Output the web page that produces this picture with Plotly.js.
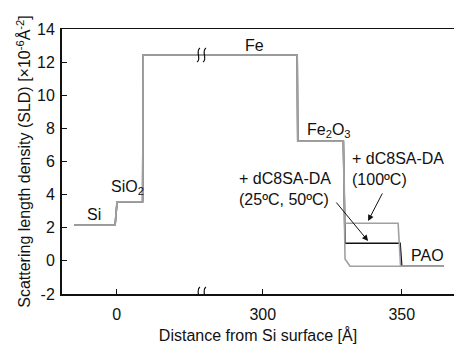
<!DOCTYPE html>
<html><head><meta charset="utf-8">
<script src="https://cdn.plot.ly/plotly-3.0.1.min.js"></script>
<style>html,body{margin:0;padding:0;background:#fff}#chart{width:454px;height:344px}</style>
</head><body><div id="chart"></div>
<script>
// Distance from Si surface [Å] and SLD [×10^-6 Å^-2]
const xBare   = [-15.4, -0.6, 0.1, 9.3, 9.5, 312.4, 312.6, 329.0, 329.6, 331.4, 365.2];
const yBare   = [2.15, 2.15, 3.57, 3.57, 12.43, 12.43, 7.22, 7.22, 0.12, -0.32, -0.32];
const x100    = [-15.4, -0.6, 0.1, 9.3, 9.5, 312.4, 312.6, 329.0, 329.6, 348.7, 349.1, 349.6, 365.2];
const y100    = [2.15, 2.15, 3.57, 3.57, 12.43, 12.43, 7.22, 7.22, 2.27, 2.27, 1.06, -0.32, -0.32];
const x2550   = [-15.4, -0.6, 0.1, 9.3, 9.5, 312.4, 312.6, 329.0, 329.6, 349.4, 350.0, 365.2];
const y2550   = [2.15, 2.15, 3.57, 3.57, 12.43, 12.43, 7.22, 7.22, 1.06, 1.06, -0.32, -0.32];
const xTickVals = [0, 300, 350];
const xTickText = ['0', '300', '350'];
const yTickVals = [-2, 0, 2, 4, 6, 8, 10, 12, 14];
const yTickText = ['-2', '0', '2', '4', '6', '8', '10', '12', '14'];

// broken x axis: the region between ~31 Å and ~278.5 Å is cut out
const BREAK_AT = 31;
const GAP = 247.5;
const disp = v => (v > 150 ? v - GAP : v);

const FONT = 'Liberation Sans, Arial, sans-serif';
const GRAY = '#a0a0a0';

const traces = [
  {x: x2550.map(disp), y: y2550, mode: 'lines', line: {color: '#111111', width: 1.6}, hoverinfo: 'skip'},
  {x: xBare.map(disp), y: yBare, mode: 'lines', line: {color: GRAY, width: 1.6}, hoverinfo: 'skip'},
  {x: x100.map(disp), y: y100, mode: 'lines', line: {color: GRAY, width: 1.6}, hoverinfo: 'skip'}
];

const squiggle = 'M -6,-7 C -1,-5 -8,4 -3,7 M 0,-7 C 5,-5 -2,4 3,7';
const breakShape = yAnchor => ({
  type: 'path', xref: 'x', yref: 'y', xsizemode: 'pixel', ysizemode: 'pixel',
  xanchor: BREAK_AT, yanchor: yAnchor, path: squiggle,
  line: {color: '#111111', width: 1.2}
});

const ann = (x, y, text, xanchor) => ({
  x, y, xref: 'x', yref: 'y', text, showarrow: false, xanchor: xanchor || 'center',
  align: 'left', font: {family: FONT, size: 16, color: '#111111'}
});

const layout = {
  width: 454, height: 344,
  margin: {l: 62, r: 0, t: 29, b: 50},
  paper_bgcolor: '#ffffff', plot_bgcolor: '#ffffff',
  showlegend: false,
  font: {family: FONT, size: 16, color: '#111111'},
  xaxis: {
    range: [-19.7, 121.3], showgrid: false, zeroline: false,
    showline: true, linecolor: '#111111', linewidth: 1.5, mirror: true,
    ticks: 'inside', ticklen: 5, tickwidth: 1, tickcolor: '#111111',
    ticklabelstandoff: 5,
    tickmode: 'array', tickvals: xTickVals.map(disp), ticktext: xTickText,
    tickfont: {family: FONT, size: 16, color: '#111111'},
    title: {text: 'Distance from Si surface [Å]', font: {family: FONT, size: 16, color: '#111111'}, standoff: 9}
  },
  yaxis: {
    range: [-2, 14], showgrid: false, zeroline: false,
    showline: true, linecolor: '#111111', linewidth: 2,
    ticks: 'inside', ticklen: 5, tickwidth: 1, tickcolor: '#111111',
    ticklabelstandoff: 2,
    tickmode: 'array', tickvals: yTickVals, ticktext: yTickText,
    tickfont: {family: FONT, size: 16, color: '#111111'},
    title: {text: 'Scattering length density (SLD) [×10<sup>-6</sup>Å<sup>-2</sup>]', font: {family: FONT, size: 16, color: '#111111'}, standoff: 2}
  },
  shapes: [breakShape(12.43), breakShape(-2)],
  annotations: [
    ann(-8.3, 2.83, 'Si'),
    ann(-2.7, 4.45, 'SiO<sub>2</sub>', 'left'),
    ann(49.4, 13.03, 'Fe'),
    ann(67.7, 7.85, 'Fe<sub>2</sub>O<sub>3</sub>', 'left'),
    ann(83.9, 5.55, '+ dC8SA-DA<br>(100ºC)', 'left'),
    ann(43.4, 4.37, '+ dC8SA-DA<br>(25ºC, 50ºC)', 'left'),
    ann(105.1, 0.35, 'PAO', 'left'),
    {x: 90.4, y: 2.41, xref: 'x', yref: 'y', text: '', showarrow: true, ax: 15, ay: -29,
     arrowhead: 2, arrowsize: 1.2, arrowwidth: 1, arrowcolor: '#111111'},
    {x: 90.4, y: 1.2, xref: 'x', yref: 'y', text: '', showarrow: true, ax: -33, ay: -40,
     arrowhead: 2, arrowsize: 1.2, arrowwidth: 1, arrowcolor: '#111111'}
  ]
};

Plotly.newPlot('chart', traces, layout, {staticPlot: true, displayModeBar: false});
</script>
</body></html>
